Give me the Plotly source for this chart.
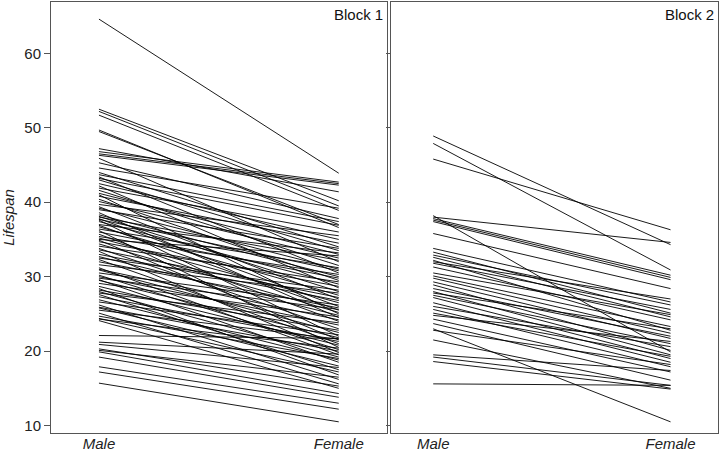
import plotly.graph_objects as go

# Block 1: paired lifespans (Male -> Female)
block1_male = [64.6, 52.5, 52.2, 51.7, 49.7, 49.5, 47.2, 46.8, 46.5, 46.3,
               45.9, 45.3, 44.6, 44.0, 43.7, 43.4, 43.2, 43.0, 42.5, 42.2,
               41.9, 41.6, 41.2, 41.0, 40.8, 40.4, 40.1, 39.7, 39.4, 39.2,
               39.0, 38.6, 38.3, 38.1, 38.0, 37.8, 37.7, 37.6, 37.4, 37.0,
               36.9, 36.7, 36.4, 36.2, 36.0, 35.7, 35.4, 35.2, 35.0, 34.9,
               34.7, 34.4, 34.1, 33.8, 33.6, 33.4, 33.0, 32.7, 32.5, 32.3,
               32.0, 31.6, 31.2, 31.0, 30.9, 30.5, 30.2, 30.0, 29.8, 29.6,
               29.5, 29.1, 28.7, 28.4, 28.2, 28.0, 27.8, 27.6, 27.3, 26.9,
               26.6, 26.2, 25.9, 25.8, 25.5, 25.1, 24.7, 24.4, 24.3, 24.1,
               22.1, 21.2, 20.9, 20.3, 20.1, 19.9, 19.2, 17.9, 17.2, 15.7]
block1_female = [43.9, 40.2, 39.5, 38.9, 36.6, 37.0, 41.4, 42.7, 42.5, 42.3,
                 32.0, 37.8, 39.2, 34.0, 37.4, 30.5, 36.9, 33.5, 35.0, 28.5,
                 36.0, 31.5, 33.0, 25.0, 34.5, 29.5, 32.5, 35.5, 27.0, 31.0,
                 33.8, 24.5, 30.0, 28.0, 32.2, 26.0, 30.8, 22.0, 29.0, 33.2,
                 25.5, 27.5, 31.2, 20.5, 29.8, 24.0, 30.3, 26.5, 32.8, 21.5,
                 28.7, 25.2, 29.3, 23.0, 27.2, 19.8, 26.8, 24.8, 28.2, 21.0,
                 25.8, 27.8, 19.5, 24.2, 22.5, 26.2, 20.2, 23.5, 25.6, 18.5,
                 21.8, 24.6, 20.8, 16.8, 22.8, 19.2, 23.8, 17.5, 21.3, 18.8,
                 22.2, 16.2, 20.0, 18.0, 21.6, 15.6, 19.0, 17.2, 20.4, 15.0,
                 21.7, 19.6, 17.8, 15.3, 16.5, 14.3, 13.8, 13.0, 12.2, 10.5]

# Block 2: paired lifespans (Male -> Female)
block2_male = [48.9, 47.9, 45.8, 38.2, 38.0, 37.8, 37.6, 37.4, 35.8, 33.8,
               33.3, 32.9, 32.6, 32.2, 32.0, 31.8, 31.3, 30.5, 30.1, 29.8,
               29.3, 28.9, 28.4, 28.0, 27.8, 27.5, 27.2, 26.5, 26.0, 25.6,
               25.1, 24.8, 24.3, 23.7, 23.0, 22.8, 21.5, 19.5, 19.2, 18.6,
               15.6]
block2_female = [34.3, 30.9, 36.3, 19.9, 34.6, 30.2, 29.9, 29.6, 28.4, 26.6,
                 25.1, 26.2, 24.6, 22.8, 27.0, 25.6, 24.2, 24.9, 23.3, 22.4,
                 21.7, 20.1, 22.0, 19.5, 23.0, 21.0, 19.0, 18.5, 20.6, 17.9,
                 19.3, 21.3, 17.2, 16.1, 10.5, 18.2, 15.0, 17.4, 15.4, 14.9,
                 15.4]

sex_labels = ["Male", "Female"]
sex_pos = [0, 1]
y_ticks = [10, 20, 30, 40, 50, 60]
panel_titles = ["Block 1", "Block 2"]


def segments(male, female):
    xs, ys = [], []
    for m, f in zip(male, female):
        xs += [sex_pos[0], sex_pos[1], None]
        ys += [m, f, None]
    return xs, ys


fig = go.Figure()
x1, y1 = segments(block1_male, block1_female)
x2, y2 = segments(block2_male, block2_female)
fig.add_trace(go.Scatter(x=x1, y=y1, mode="lines", xaxis="x", yaxis="y",
                         line=dict(color="black", width=0.9), showlegend=False,
                         hoverinfo="skip"))
fig.add_trace(go.Scatter(x=x2, y=y2, mode="lines", xaxis="x2", yaxis="y2",
                         line=dict(color="black", width=0.9), showlegend=False,
                         hoverinfo="skip"))

FONT = "Liberation Sans, Arial, sans-serif"
axcol = "#555555"
common_x = dict(tickvals=sex_pos, ticktext=["<i>%s</i>" % s for s in sex_labels],
                showline=True, mirror=True, linecolor=axcol, linewidth=1,
                showgrid=False, zeroline=False, ticks="", automargin=False,
                ticklabelstandoff=-3,
                tickfont=dict(family=FONT, size=15, color="#222"))
common_y = dict(range=[9.0, 66.9], tickvals=y_ticks, showline=True, mirror=True,
                linecolor=axcol, linewidth=1, showgrid=False, zeroline=False,
                ticks="outside", tickcolor=axcol, automargin=False,
                tickfont=dict(family=FONT, size=15, color="#222"))

fig.update_layout(
    width=720, height=452,
    margin=dict(l=51, r=2, t=2, b=19, autoexpand=False),
    paper_bgcolor="white", plot_bgcolor="white",
    xaxis=dict(domain=[0, 0.5033], range=[-0.2, 1.2], **common_x),
    xaxis2=dict(domain=[0.5097, 1.0], range=[-0.178, 1.2], anchor="y2", **common_x),
    yaxis=dict(anchor="x", ticklen=6,
               title=dict(text="<i>Lifespan</i>", font=dict(family=FONT, size=15, color="#222"),
                          standoff=8),
               **common_y),
    yaxis2=dict(anchor="x2", ticklen=4, showticklabels=False, **common_y),
    annotations=[
        dict(text=panel_titles[0], xref="x domain", yref="y domain", x=0.995, y=1.0,
             xanchor="right", yanchor="top", yshift=-2, showarrow=False,
             font=dict(family=FONT, size=15, color="#111")),
        dict(text=panel_titles[1], xref="x2 domain", yref="y2 domain", x=0.995, y=1.0,
             xanchor="right", yanchor="top", yshift=-2, showarrow=False,
             font=dict(family=FONT, size=15, color="#111")),
    ],
)

fig.write_html("out.html", config={"displayModeBar": False},
               post_script="document.body.style.margin='0px';")
